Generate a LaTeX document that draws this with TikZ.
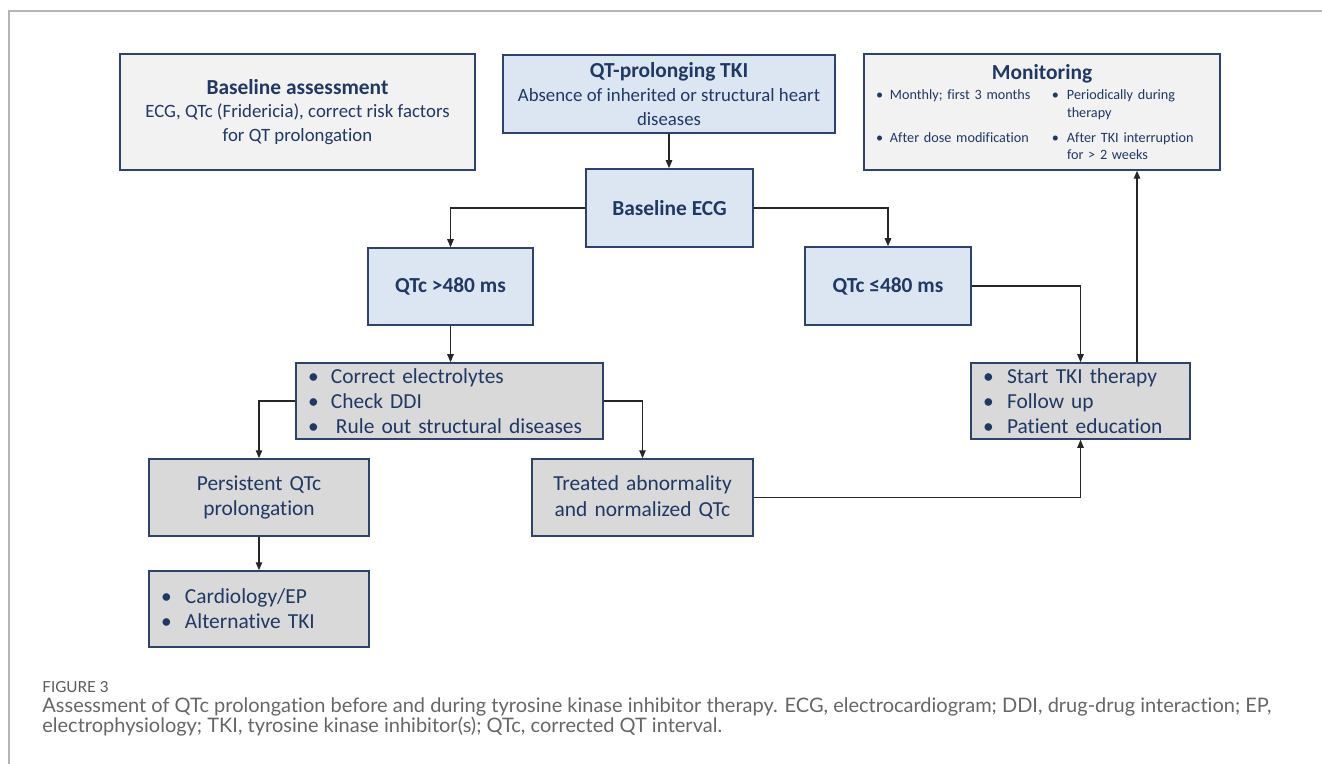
\documentclass[tikz,border=0pt]{standalone}
\usepackage{fontspec}
\setmainfont{Carlito}[Ligatures=NoCommon]
\newfontfamily\capfont{Lato}[Ligatures=NoCommon]
\usepackage{tikz}
\usetikzlibrary{arrows.meta, positioning, calc}
\usepackage{xcolor}
\definecolor{navy}{HTML}{1F3864}
\definecolor{edge}{HTML}{2E4369}
\definecolor{boxblue}{HTML}{DCE6F2}
\definecolor{boxgrey}{HTML}{D9D9D9}
\definecolor{boxlight}{HTML}{F2F2F2}
\definecolor{framegrey}{HTML}{B4B4B4}
\definecolor{capgrey}{HTML}{666666}
\newcommand{\ttl}{\fontsize{10.7}{12}\selectfont\bfseries}
\newcommand{\bul}[1]{\makebox[#1][l]{\textbullet}}

\begin{document}
\begin{tikzpicture}[x=0.5pt, y=-0.5pt,
  every node/.style={text=navy, inner sep=0pt},
  lightbox/.style={draw=edge, fill=boxlight, line width=0.75pt, align=center,
    font=\fontsize{9.4}{11.9}\selectfont},
  bluebox/.style={draw=edge, fill=boxblue, line width=0.75pt, align=center,
    font=\fontsize{10.7}{12.5}\selectfont\bfseries},
  greybox/.style={draw=edge, fill=boxgrey, line width=0.75pt, align=left,
    inner xsep=6pt, font=\fontsize{10.7}{12.6}\selectfont},
  caption/.style={anchor=west, text=capgrey, font=\capfont\fontsize{10}{11}\selectfont},
  arr/.style={-{Triangle[length=4pt,width=3.2pt]}, line width=0.7pt, draw=black!85}
]
  \useasboundingbox (0,0) rectangle (1322,764);
  \draw[framegrey, line width=0.8pt] (1322,11) -- (9,11) -- (9,764);

  \node[lightbox, minimum width=177.5pt, minimum height=58pt] (assess) at (297.5,112)
    {{\ttl Baseline assessment}\\ECG, QTc (Fridericia), correct risk factors\\for QT prolongation};
  \node[lightbox, fill=boxblue, minimum width=166pt, minimum height=39pt] (tki) at (669,94)
    {{\ttl QT-prolonging TKI}\\Absence of inherited or structural heart\\diseases};
  \node[lightbox, text width=166pt, inner xsep=6pt, minimum height=58pt, align=left,
    font=\fontsize{7.1}{8.75}\selectfont] (monit) at (1042,112)
    {\makebox[166pt]{\ttl Monitoring}\\[1.5pt]
     \bul{7pt}\makebox[81pt][l]{Monthly; first 3 months}\bul{7.5pt}Periodically during\\
     \hspace*{95.5pt}therapy\\[3.75pt]
     \bul{7pt}\makebox[81pt][l]{After dose modification}\bul{7.5pt}After TKI interruption\\
     \hspace*{95.5pt}for > 2 weeks};

  \node[bluebox, minimum width=83.5pt, minimum height=39pt] (ecg) at (669.5,208) {Baseline ECG};
  \node[bluebox, minimum width=82.5pt, minimum height=38.5pt] (qlong) at (450.5,286.5) {QTc >480 ms};
  \node[bluebox, minimum width=83pt, minimum height=39pt] (qok) at (888,286) {QTc ≤480 ms};

  \node[greybox, text width=141.5pt, minimum height=38pt] (correct) at (449.5,401)
    {\bul{11.5pt}Correct electrolytes\\\bul{11.5pt}Check DDI\\\bul{11.5pt}\hspace{2.5pt}Rule out structural diseases};
  \node[greybox, text width=97.5pt, minimum height=38pt] (start) at (1080.5,401)
    {\bul{12pt}Start TKI therapy\\\bul{12pt}Follow up\\\bul{12pt}Patient education};
  \node[greybox, text width=98pt, minimum height=38.5pt, align=center] (persist) at (259,497.5)
    {Persistent QTc\\prolongation};
  \node[greybox, text width=98.5pt, minimum height=38.5pt, align=center] (treated) at (642.5,497.5)
    {Treated abnormality\\and normalized QTc};
  \node[greybox, text width=98pt, minimum height=38pt] (cardio) at (259,609)
    {\bul{12pt}Cardiology/EP\\\bul{12pt}Alternative TKI};

  \draw[arr] (tki) -- (tki |- ecg.north);
  \draw[arr] (ecg.west) -| (qlong.north);
  \draw[arr] (ecg.east) -| (qok.north);
  \draw[arr] (qlong) -- (qlong |- correct.north);
  \draw[arr] (qok.east) -| (start.north);
  \draw[arr] (correct.west) -| (persist.north);
  \draw[arr] (correct.east) -| (treated.north);
  \draw[arr] (persist) -- (cardio);
  \draw[arr] (treated.east) -| (start.south);
  \draw[arr] ([xshift=28.25pt]start.north) -- ([xshift=28.25pt]start.north |- monit.south);

  \node[caption, font=\capfont\fontsize{7.6}{9}\selectfont, text=black!65] (figlabel) at (42,687) {FIGURE 3};
  \node[caption] (capone) at (42,707)
    {Assessment of QTc prolongation before and during tyrosine kinase inhibitor therapy. ECG, electrocardiogram; DDI, drug-drug interaction; EP,};
  \node[caption] (captwo) at (42,727)
    {electrophysiology; TKI, tyrosine kinase inhibitor(s); QTc, corrected QT interval.};
\end{tikzpicture}
\end{document}
